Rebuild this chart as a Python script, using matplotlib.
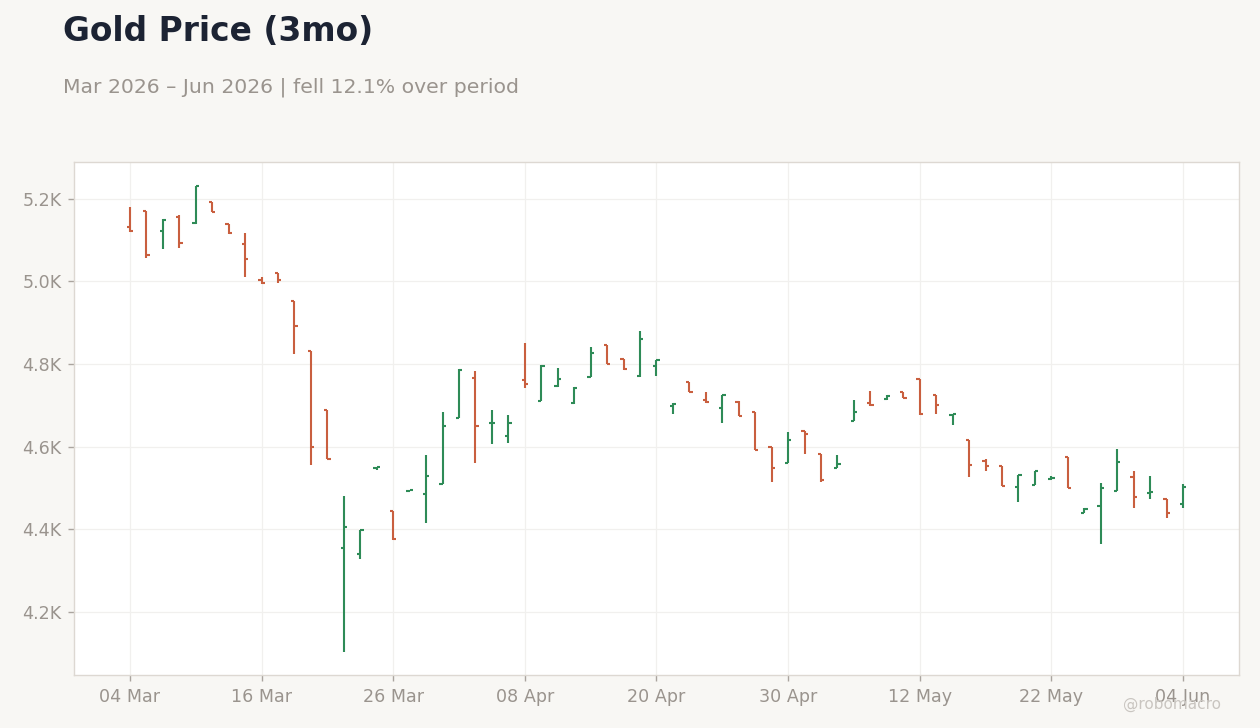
import numpy as np
import pandas as pd
import matplotlib
matplotlib.use("Agg")
import matplotlib.pyplot as plt
from matplotlib.ticker import FuncFormatter

#%% --- Data ---

# trading days Mar 4 - Jun 4 2026 (US calendar: no Good Friday, no Memorial Day)
dates = [d for d in pd.bdate_range("2026-03-04", "2026-06-04")
         if d not in (pd.Timestamp("2026-04-03"), pd.Timestamp("2026-05-25"))]

opens = [5131, 5170, 5121, 5155, 5141, 5192, 5139, 5090, 5003, 5020,
         4952, 4831, 4688, 4353, 4339, 4548, 4443, 4493, 4484, 4510,
         4668, 4765, 4656, 4625, 4760, 4711, 4746, 4705, 4769, 4846,
         4811, 4772, 4794, 4699, 4756, 4712, 4694, 4709, 4683, 4600,
         4561, 4637, 4581, 4549, 4663, 4705, 4714, 4731, 4763, 4725,
         4677, 4615, 4564, 4552, 4503, 4507, 4521, 4574, 4440, 4455,
         4493, 4525, 4487, 4472, 4462]
highs = [5181, 5170, 5150, 5162, 5232, 5192, 5139, 5118, 5011, 5020,
         4952, 4831, 4688, 4481, 4399, 4551, 4443, 4495, 4580, 4684,
         4787, 4784, 4689, 4677, 4852, 4798, 4791, 4744, 4842, 4846,
         4811, 4881, 4810, 4706, 4757, 4733, 4725, 4710, 4684, 4600,
         4636, 4638, 4581, 4580, 4713, 4735, 4726, 4732, 4764, 4725,
         4679, 4615, 4570, 4552, 4532, 4540, 4529, 4575, 4450, 4512,
         4593, 4541, 4529, 4472, 4510]
lows = [5120, 5057, 5078, 5080, 5140, 5168, 5116, 5010, 4994, 4996,
        4824, 4555, 4570, 4103, 4327, 4543, 4374, 4492, 4414, 4510,
        4668, 4559, 4605, 4608, 4741, 4711, 4745, 4704, 4769, 4800,
        4786, 4768, 4770, 4678, 4732, 4706, 4658, 4674, 4591, 4515,
        4560, 4583, 4513, 4548, 4662, 4699, 4713, 4717, 4677, 4680,
        4651, 4525, 4540, 4504, 4465, 4506, 4520, 4499, 4438, 4364,
        4492, 4450, 4474, 4428, 4450]
closes = [5121, 5065, 5148, 5092, 5231, 5169, 5117, 5054, 4995, 5003,
          4891, 4600, 4571, 4404, 4399, 4550, 4375, 4494, 4528, 4649,
          4785, 4650, 4658, 4658, 4751, 4794, 4763, 4743, 4826, 4801,
          4787, 4860, 4809, 4702, 4733, 4707, 4724, 4675, 4592, 4547,
          4615, 4631, 4520, 4557, 4683, 4700, 4722, 4718, 4678, 4700,
          4679, 4556, 4553, 4505, 4532, 4540, 4523, 4500, 4449, 4500,
          4562, 4477, 4490, 4438, 4501]

tick_every = 8

#%% --- Styling ---

bg_color = "#f8f7f4"
up_color = "#2e8b57"
down_color = "#c95f3f"
muted = "#9a948e"

plt.rcParams["font.family"] = ["DejaVu Sans"]

fig = plt.figure(figsize=(12.6, 7.28), dpi=100, facecolor=bg_color)
ax = fig.add_axes([0.0587, 0.0728, 0.9246, 0.7042])
ax.set_facecolor("white")

#%% --- Plot OHLC bars ---

x = np.arange(len(dates))
o = np.array(opens)
h = np.array(highs)
l = np.array(lows)
c = np.array(closes)
colors = [up_color if cc >= oo else down_color for oo, cc in zip(o, c)]

tick_w = 0.2
ax.vlines(x, l, h, colors=colors, linewidth=1.5, zorder=3)
ax.hlines(o, x - tick_w, x, colors=colors, linewidth=1.5, zorder=3)
ax.hlines(c, x, x + tick_w, colors=colors, linewidth=1.5, zorder=3)

#%% --- Axes ---

ax.set_xlim(-3.4, len(dates) - 1 + 3.4)
span = h.max() - l.min()
ax.set_ylim(l.min() - 0.05 * span, h.max() + 0.05 * span)

tick_pos = x[::tick_every]
ax.set_xticks(tick_pos)
ax.set_xticklabels([dates[i].strftime("%d %b") for i in tick_pos])
ax.set_yticks([4200, 4400, 4600, 4800, 5000, 5200])
ax.yaxis.set_major_formatter(FuncFormatter(lambda v, p: "{:.1f}K".format(v / 1000)))

ax.grid(True, color="#f1f0ee", linewidth=0.9, zorder=0)
ax.set_axisbelow(True)
for spine in ax.spines.values():
    spine.set_color("#ddd8d2")
    spine.set_linewidth(1.0)
ax.tick_params(axis="both", colors="#aaa49e", labelcolor=muted,
               labelsize=12.6, length=4, width=1, pad=5)

#%% --- Titles ---

pct = (closes[-1] - closes[0]) / closes[0] * 100
direction = "fell" if pct < 0 else "rose"

fig.text(0.050, 0.943, "Gold Price (3mo)", fontsize=23.7, fontweight="bold",
         color="#1c2333", ha="left", va="baseline")
fig.text(0.050, 0.873,
         "Mar 2026 \u2013 Jun 2026 | {} {:.1f}% over period".format(direction, abs(pct)),
         fontsize=14.65, color=muted, ha="left", va="baseline")
fig.text(0.969, 0.032, "@robomacro", fontsize=11, color="#c9c5c0",
         ha="right", va="center")

fig.savefig("out.png", dpi=100, facecolor=bg_color)
